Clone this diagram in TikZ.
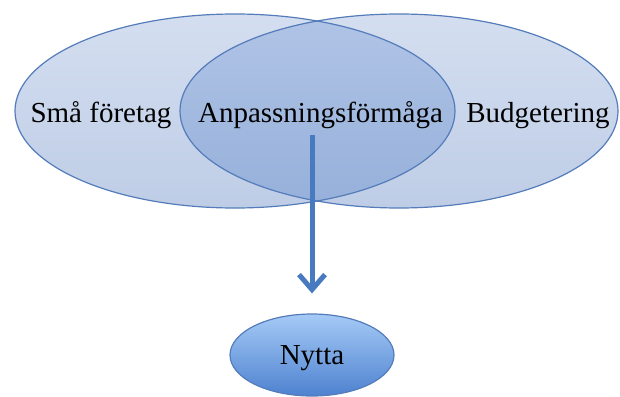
\documentclass[tikz,border=0pt]{standalone}
\usepackage{fontspec}
\setmainfont{Liberation Serif}
\usetikzlibrary{arrows.meta,shapes.geometric}
\definecolor{rim}{RGB}{84,124,186}
\definecolor{paletop}{RGB}{212,222,240}
\definecolor{palebot}{RGB}{190,205,230}
\definecolor{lenstop}{RGB}{176,196,230}
\definecolor{lensbot}{RGB}{150,176,218}
\definecolor{nyttatop}{RGB}{165,202,246}
\definecolor{nyttabot}{RGB}{78,130,208}
\definecolor{pil}{RGB}{72,122,192}
\tikzset{word/.style={font=\fontsize{29}{34}\selectfont, inner sep=0pt, anchor=base}}
\tikzset{rimline/.style={draw=rim, line width=1.2pt}}
\tikzset{arrowline/.style={draw=pil, line width=5pt, -{Straight Barb[length=15pt,width=26pt]}}}

\begin{document}
\begin{tikzpicture}[x=1pt,y=-1pt]
  \useasboundingbox (0,0) rectangle (620,396);

  % the two large sets
  \shade[top color=paletop, bottom color=palebot] (235,111) ellipse [x radius=220, y radius=97];
  \shade[top color=paletop, bottom color=palebot] (399,111) ellipse [x radius=219, y radius=97];
  \begin{scope}
    \clip (235,111) ellipse [x radius=220, y radius=97];
    \shade[top color=lenstop, bottom color=lensbot] (399,111) ellipse [x radius=219, y radius=97];
  \end{scope}
  \draw[rimline] (235,111) ellipse [x radius=220, y radius=97];
  \draw[rimline] (399,111) ellipse [x radius=219, y radius=97];

  \node[word] (sma) at (101,122) {Små företag};
  \node[word] (anp) at (320.5,122) {Anpassningsförmåga};
  \node[word] (budget) at (538,122) {Budgetering};

  % result
  \node[ellipse, rimline, top color=nyttatop, bottom color=nyttabot,
        minimum width=164, minimum height=82, inner sep=0pt,
        font=\fontsize{29}{34}\selectfont, text depth=0pt] (nytta) at (312,355) {Nytta};

  \coordinate (start) at (312,135);
  \draw[arrowline, shorten >=20pt] (start) -- (nytta.north);
\end{tikzpicture}
\end{document}
